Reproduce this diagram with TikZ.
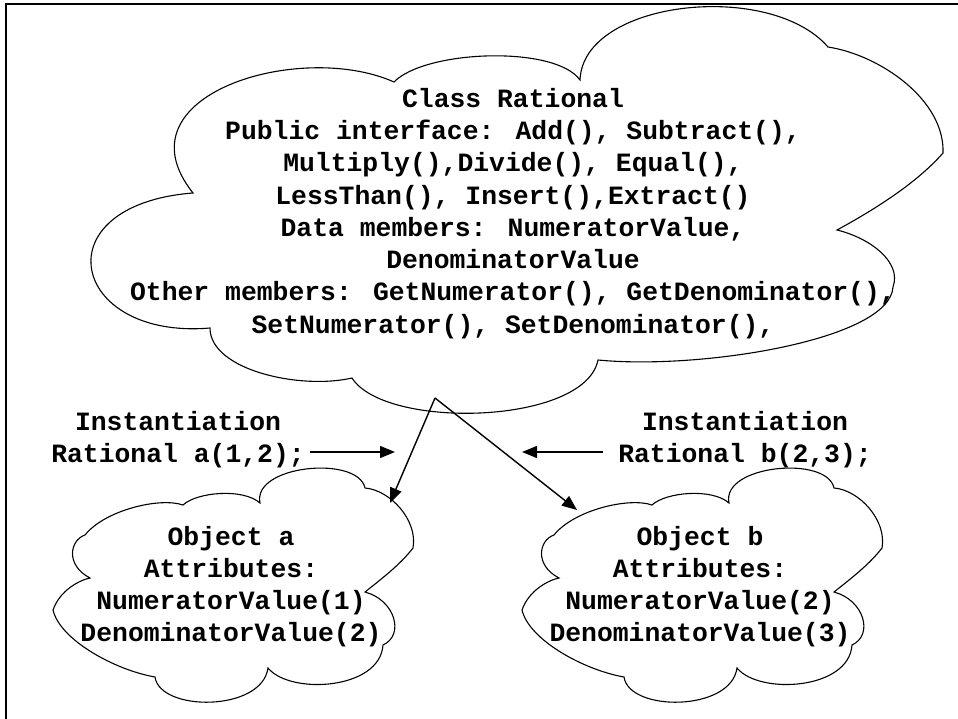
\documentclass[tikz,border=0pt]{standalone}
\usepackage{fontspec}
\newfontfamily\cour{Liberation Mono}
\usetikzlibrary{arrows.meta}
\begin{document}
\begin{tikzpicture}[x=1pt,y=-1pt,
  txt/.style={font=\cour\bfseries\fontsize{26.4pt}{32pt}\selectfont, inner sep=0pt, anchor=base},
  cloudline/.style={draw=black, line width=1.1pt, line join=miter},
  arr/.style={draw=black, line width=1.4pt, -{Triangle[length=15pt,width=12pt]}},
  frame/.style={draw=black, line width=2.2pt}]
\useasboundingbox (0,0) rectangle (958,719);
\fill[white] (0,0) rectangle (958,719);
\draw[frame] (6,719) -- (6,4) -- (958,4);

% big class cloud
\draw[cloudline] (193,193)
  .. controls (115,95) and (300,40) .. (394,82)
  .. controls (425,50) and (555,45) .. (580,80)
  .. controls (583,0) and (770,-20) .. (828,47)
  .. controls (880,55) and (945,100) .. (943,153)
  .. controls (915,185) and (870,212) .. (837,230)
  .. controls (870,238) and (902,262) .. (893,287)
  .. controls (890,340) and (700,370) .. (598,360)
  .. controls (585,425) and (385,430) .. (352,378)
  .. controls (300,390) and (210,370) .. (210,328)
  .. controls (70,340) and (40,205) .. (193,193) -- cycle;

% small object clouds
\foreach \dx in {0,469}{
\draw[cloudline, xshift=\dx pt] (85,535)
  .. controls (105,510) and (160,497) .. (183,505)
  .. controls (197,492) and (243,488) .. (260,503)
  .. controls (252,465) and (358,455) .. (365,488)
  .. controls (390,490) and (418,520) .. (413,548)
  .. controls (400,565) and (380,580) .. (365,592)
  .. controls (395,600) and (405,635) .. (383,645)
  .. controls (380,690) and (290,695) .. (268,668)
  .. controls (262,712) and (160,712) .. (155,677)
  .. controls (115,670) and (60,640) .. (53,610)
  .. controls (60,590) and (80,580) .. (90,578)
  .. controls (65,565) and (70,540) .. (85,535) -- cycle;
}

% class text
\node[txt] (c1) at (513,108) {Class Rational};
\node[txt] (c2) at (513,140) {Public interface: Add(), Subtract(),};
\node[txt] (c3) at (513,172) {Multiply(),Divide(), Equal(),};
\node[txt] (c4) at (513,204.5) {LessThan(), Insert(),Extract()};
\node[txt] (c5) at (513,236.5) {Data members: NumeratorValue,};
\node[txt] (c6) at (513,268.5) {DenominatorValue};
\node[txt] (c7) at (513,301) {Other members: GetNumerator(), GetDenominator(),};
\node[txt] (c8) at (513,333) {SetNumerator(), SetDenominator(),};

% object a
\node[txt] (a1) at (231,545) {Object a};
\node[txt] (a2) at (231,577) {Attributes:};
\node[txt] (a3) at (231,609) {NumeratorValue(1)};
\node[txt] (a4) at (231,641) {DenominatorValue(2)};

% object b
\node[txt] (b1) at (700,545) {Object b};
\node[txt] (b2) at (700,577) {Attributes:};
\node[txt] (b3) at (700,609) {NumeratorValue(2)};
\node[txt] (b4) at (700,641) {DenominatorValue(3)};

% instantiation labels
\node[txt] (ia1) at (178,430) {Instantiation};
\node[txt] (ia2) at (178,462) {Rational a(1,2);};
\node[txt] (ib1) at (745,430) {Instantiation};
\node[txt] (ib2) at (745,462) {Rational b(2,3);};

% connectors
\coordinate (src) at (435,398);
\coordinate (ea) at (390,503);
\coordinate (eb) at (577,510);
\coordinate (ta) at (395,452);
\coordinate (tb) at (522,452);
\coordinate (sa) at (310,452);
\coordinate (sb) at (603,452);
\draw[arr] (src) -- (ea);
\draw[arr] (src) -- (eb);
\draw[arr] (sa) -- (ta);
\draw[arr] (sb) -- (tb);
\end{tikzpicture}
\end{document}
